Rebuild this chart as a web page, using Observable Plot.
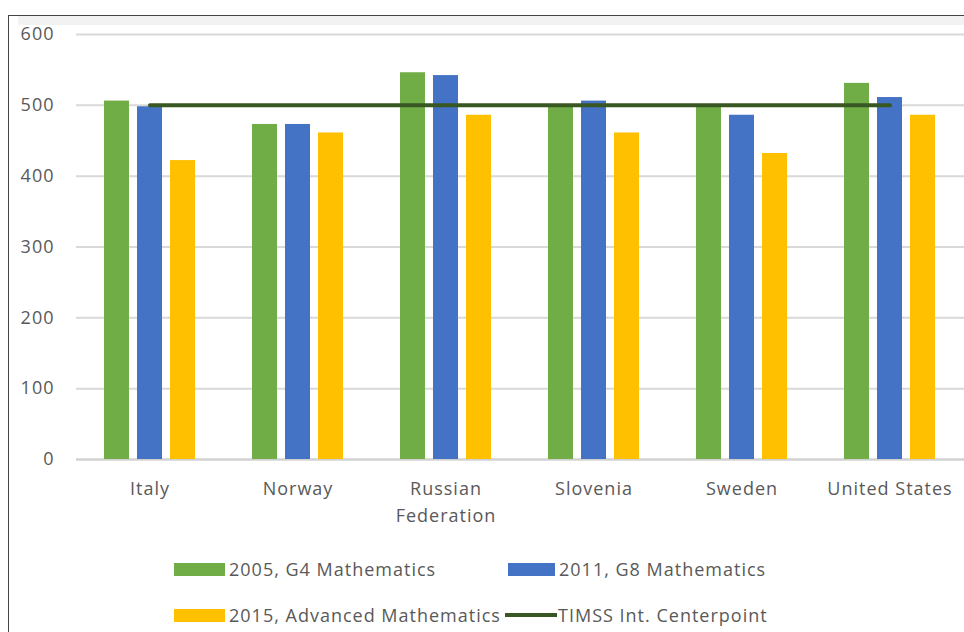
<!DOCTYPE html>
<html>
<head>
<meta charset="utf-8">
<script src="https://cdn.jsdelivr.net/npm/d3@7"></script>
<script src="https://cdn.jsdelivr.net/npm/@observablehq/plot@0.6"></script>
<style>
  html, body { margin: 0; padding: 0; background: #fff; }
  #wrap { position: relative; width: 964px; height: 632px; overflow: hidden; font-family: "Open Sans", sans-serif; }
  #frame { position: absolute; left: 8px; top: 15px; width: 970px; height: 640px; border-left: 1px solid #444; border-top: 1px solid #444; }
  #band { position: absolute; left: 18px; top: 16px; width: 950px; height: 9px; background: #f2f2f2; }
  #chart { position: absolute; left: 0; top: 0; }
  .leg { position: absolute; display: flex; align-items: center; font-size: 18px; letter-spacing: 1px; color: #595959; white-space: nowrap; }
  .sw { display: inline-block; margin-right: 4px; }
</style>
</head>
<body>
<div id="wrap">
  <div id="frame"></div>
  <div id="band"></div>
  <div id="chart"></div>
  <div id="legend"></div>
</div>
<script>
const countries = ["Italy", "Norway", "Russian Federation", "Slovenia", "Sweden", "United States"];
const countryLabels = ["Italy", "Norway", "Russian\nFederation", "Slovenia", "Sweden", "United States"];
const g4_2005 = [506, 473, 546, 500, 500, 531];
const g8_2011 = [498, 473, 542, 506, 486, 511];
const adv_2015 = [422, 461, 486, 461, 432, 486];
const centerpoint = 500;
const yTicks = [0, 100, 200, 300, 400, 500, 600];
const seriesNames = ["2005, G4 Mathematics", "2011, G8 Mathematics", "2015, Advanced Mathematics", "TIMSS Int. Centerpoint"];
const colors = ["#70ad47", "#4472c4", "#ffc000", "#385723"];

const rows = (vals) => countries.map((c, i) => ({country: c, value: vals[i]}));
const centerRows = countries.map(c => ({country: c, value: centerpoint}));
const labelOf = new Map(countries.map((c, i) => [c, countryLabels[i]]));

const chart = Plot.plot({
  width: 964,
  height: 540,
  marginTop: 34,
  marginBottom: 81,
  marginLeft: 76,
  marginRight: 0,
  style: {fontFamily: "Open Sans, sans-serif", background: "transparent", color: "#595959", letterSpacing: "1px"},
  x: {domain: countries, paddingInner: 0.828, paddingOuter: 0.414, label: null},
  y: {domain: [0, 600], label: null},
  marks: [
    Plot.gridY(yTicks, {stroke: "#d9d9d9", strokeOpacity: 1, strokeWidth: 2}),
    Plot.ruleY([0], {stroke: "#d0d0d0", strokeWidth: 2}),
    Plot.barY(rows(g4_2005), {x: "country", y: "value", fill: colors[0], dx: -33}),
    Plot.barY(rows(g8_2011), {x: "country", y: "value", fill: colors[1]}),
    Plot.barY(rows(adv_2015), {x: "country", y: "value", fill: colors[2], dx: 33}),
    Plot.lineY(centerRows, {x: "country", y: "value", stroke: colors[3], strokeWidth: 4}),
    Plot.axisY(yTicks, {tickSize: 0, tickPadding: 22, fontSize: 18, fill: "#595959"}),
    Plot.axisX({tickSize: 0, tickPadding: 16, fontSize: 18, fill: "#595959", lineHeight: 1.5, tickFormat: d => labelOf.get(d)})
  ]
});
document.getElementById("chart").appendChild(chart);

const legendPos = [
  {left: 174, top: 569, w: 51, h: 13, line: false},
  {left: 508, top: 569, w: 47, h: 13, line: false},
  {left: 174, top: 615, w: 51, h: 13, line: false},
  {left: 505, top: 615, w: 52, h: 4, line: true}
];
const legend = document.getElementById("legend");
seriesNames.forEach((name, i) => {
  const p = legendPos[i];
  const item = document.createElement("div");
  item.className = "leg";
  item.style.left = p.left + "px";
  item.style.top = (p.top - 13) + "px";
  item.style.height = "26px";
  const sw = document.createElement("span");
  sw.className = "sw";
  sw.style.width = p.w + "px";
  sw.style.height = p.h + "px";
  sw.style.background = colors[i];
  if (p.line) sw.style.marginRight = "1px";
  const t = document.createElement("span");
  t.textContent = name;
  item.appendChild(sw);
  item.appendChild(t);
  legend.appendChild(item);
});
</script>
</body>
</html>
